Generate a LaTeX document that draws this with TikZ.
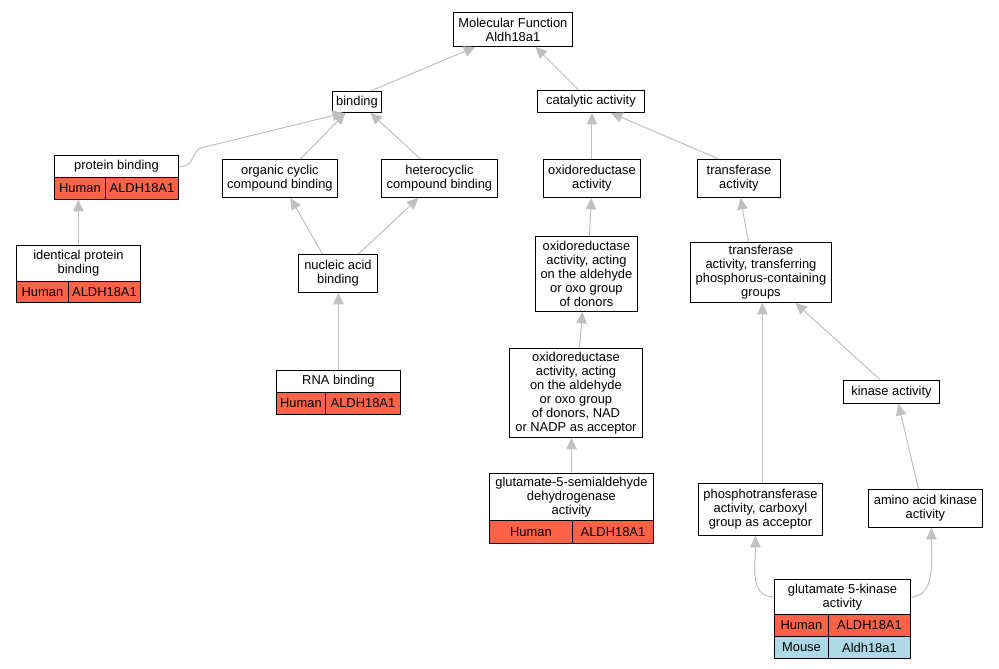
\documentclass[tikz,border=0pt]{standalone}
\usepackage{fontspec}
\setmainfont{Liberation Sans}
\usetikzlibrary{arrows.meta}
\definecolor{human}{HTML}{FF6347}
\definecolor{mouse}{HTML}{ADD8E6}
\definecolor{edgegray}{HTML}{C0C0C0}
\begin{document}
\begin{tikzpicture}[x=1pt,y=-1pt]
   \tikzstyle{every node}=[draw, rectangle, fill=white, line width=0.9pt, inner sep=0pt, anchor=north west, align=center, font=\fontsize{12.9}{14}\selectfont]
   \tikzstyle{edge}=[draw=edgegray, line width=1pt, -{Triangle[length=11.5pt,width=10.5pt,fill=edgegray]}]
   \useasboundingbox (0,0) rectangle (999,669);

% plain terms
\node[minimum width=119, minimum height=34] (mf) at (453,12) {Molecular Function\\Aldh18a1};
\node[minimum width=49, minimum height=21] (bind) at (332,91) {binding};
\node[minimum width=107, minimum height=22] (cat) at (537,90) {catalytic activity};
\node[minimum width=115, minimum height=38] (ocb) at (222,159) {organic cyclic\\compound binding};
\node[minimum width=116, minimum height=38] (hcb) at (381,159) {heterocyclic\\compound binding};
\node[minimum width=97, minimum height=38] (oxa) at (543,159) {oxidoreductase\\activity};
\node[minimum width=83, minimum height=38] (tra) at (697,159) {transferase\\activity};
\node[minimum width=79, minimum height=38] (nab) at (298,254) {nucleic acid\\binding};
\node[minimum width=102, minimum height=75] (oxald) at (535,236) {oxidoreductase\\activity, acting\\on the aldehyde\\or oxo group\\of donors};
\node[minimum width=141, minimum height=60] (trp) at (690,242) {transferase\\activity, transferring\\phosphorus-containing\\groups};
\node[minimum width=133, minimum height=89] (oxnad) at (509,348) {oxidoreductase\\activity, acting\\on the aldehyde\\or oxo group\\of donors, NAD\\or NADP as acceptor};
\node[minimum width=96, minimum height=23] (kin) at (843,380) {kinase activity};
\node[minimum width=124, minimum height=52] (pho) at (698,483) {phosphotransferase\\activity, carboxyl\\group as acceptor};
\node[minimum width=114, minimum height=38] (aak) at (868,489) {amino acid kinase\\activity};

% terms with genes
\node[minimum width=124, minimum height=22] (pb) at (54,155) {protein binding};
\node[fill=human, minimum width=51, minimum height=22] (pbh) at (54,177) {Human};
\node[fill=human, minimum width=73, minimum height=22] (pbg) at (105,177) {ALDH18A1};

\node[minimum width=124, minimum height=36] (ipb) at (16,245) {identical protein\\binding};
\node[fill=human, minimum width=52, minimum height=21] (ipbh) at (16,281) {Human};
\node[fill=human, minimum width=72, minimum height=21] (ipbg) at (68,281) {ALDH18A1};

\node[minimum width=124, minimum height=22] (rna) at (276,370) {RNA binding};
\node[fill=human, minimum width=49, minimum height=22] (rnah) at (276,392) {Human};
\node[fill=human, minimum width=75, minimum height=22] (rnag) at (325,392) {ALDH18A1};

\node[minimum width=164, minimum height=47] (gsd) at (489,473) {glutamate-5-semialdehyde\\dehydrogenase\\activity};
\node[fill=human, minimum width=83, minimum height=23] (gsdh) at (489,520) {Human};
\node[fill=human, minimum width=81, minimum height=23] (gsdg) at (572,520) {ALDH18A1};

\node[minimum width=136, minimum height=35] (gk) at (774,579) {glutamate 5-kinase\\activity};
\node[fill=human, minimum width=54, minimum height=22] (gkh) at (774,614) {Human};
\node[fill=human, minimum width=82, minimum height=22] (gkg) at (828,614) {ALDH18A1};
\node[fill=mouse, minimum width=54, minimum height=22] (gkm) at (774,636) {Mouse};
\node[fill=mouse, minimum width=82, minimum height=22] (gkmg) at (828,636) {Aldh18a1};

% is-a edges
\draw[edge] ([xshift=13.5pt]bind.north) -- ([xshift=-37.5pt]mf.south);
\draw[edge] ([xshift=-12.5pt]cat.north) -- ([xshift=22.5pt]mf.south);
\draw[edge] (pb.east) .. controls +(15,0) and +(-8,8) .. ++(20,-18) -- ([xshift=-13pt]bind.south);
\draw[edge] ([xshift=20.5pt]ocb.north) -- ([xshift=-11.5pt]bind.south);
\draw[edge] ([xshift=-19pt]hcb.north) -- ([xshift=13.5pt]bind.south);
\draw[edge] (oxa.north) -- (oxa.north |- cat.south);
\draw[edge] ([xshift=-20pt]tra.north) -- ([xshift=20pt]cat.south);
\draw[edge] (ipb.north) -- (ipb.north |- pbh.south);
\draw[edge] ([xshift=-15.5pt]nab.north) -- ([xshift=10.5pt]ocb.south);
\draw[edge] ([xshift=20.5pt]nab.north) -- ([xshift=-21pt]hcb.south);
\draw[edge] (rna.north) -- (rna.north |- nab.south);
\draw[edge] ([xshift=3pt]oxald.north) -- ([xshift=-0.5pt]oxa.south);
\draw[edge] ([xshift=3.5pt]oxnad.north) -- ([xshift=-4pt]oxald.south);
\draw[edge] (gsd.north) -- (gsd.north |- oxnad.south);
\draw[edge] ([xshift=-12.5pt]trp.north) -- ([xshift=1.5pt]tra.south);
\draw[edge] ([xshift=-11pt]kin.north) -- ([xshift=34.5pt]trp.south);
\draw[edge] ([xshift=2pt]pho.north) -- ([xshift=2pt]pho.north |- trp.south);
\draw[edge] ([xshift=-7pt]aak.north) -- ([xshift=7pt]kin.south);
\draw[edge] (gk.west) .. controls +(-25,0) and +(0,30) .. ([xshift=-5pt]pho.south);
\draw[edge] (gk.east) .. controls +(25,0) and +(0,30) .. ([xshift=6pt]aak.south);

\end{tikzpicture}
\end{document}
